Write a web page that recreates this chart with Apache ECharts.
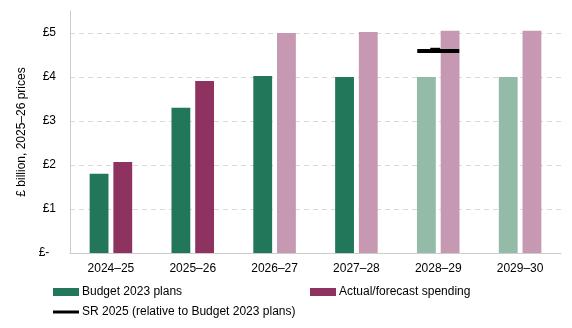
<!DOCTYPE html>
<html>
<head>
<meta charset="utf-8">
<script src="https://cdn.jsdelivr.net/npm/echarts@6/dist/echarts.min.js"></script>
<style>html,body{margin:0;padding:0;background:#fff}#c{width:572px;height:328px}</style>
</head>
<body>
<div id="c"></div>
<script>
const categories = ['2024–25', '2025–26', '2026–27', '2027–28', '2028–29', '2029–30'];
const budget2023 = [1.80, 3.30, 4.02, 4.00, 4.00, 4.00];
const actualForecast = [2.07, 3.91, 5.00, 5.02, 5.05, 5.05];
const sr2025Category = '2028–29';
const sr2025Value = 4.59;
const sr2025Step = 4.63;
const yTicks = [0, 1, 2, 3, 4, 5];
const yTickLabels = ['£-  ', '£1', '£2', '£3', '£4', '£5'];
const yMax = 5.5;
const fadedBudget = ['2028–29', '2029–30'];
const fadedActual = ['2026–27', '2027–28', '2028–29', '2029–30'];

const GREEN = '#22775a', GREEN_L = '#93bba8', PURPLE = '#8e3360', PURPLE_L = '#c798b1';
const FONT = 'Liberation Sans, Arial, sans-serif';

const legendText = { color: '#000', fontSize: 12, fontFamily: FONT, padding: [0, 0, 0, -2] };
const chart = echarts.init(document.getElementById('c'));
chart.setOption({
  animation: false,
  textStyle: { fontFamily: FONT },
  grid: { left: 70, right: 11, top: 11, bottom: 75 },
  xAxis: {
    type: 'category', data: categories,
    axisLine: { lineStyle: { color: '#cccccc', width: 1 } },
    axisTick: { show: false },
    axisLabel: { color: '#000', fontSize: 12, fontFamily: FONT, margin: 10 }
  },
  yAxis: {
    type: 'value', min: 0, max: yMax, interval: 1,
    name: '£ billion, 2025–26 prices', nameLocation: 'middle', nameRotate: 90, nameGap: 38,
    nameTextStyle: { color: '#000', fontSize: 12, fontFamily: FONT },
    axisLine: { show: true, lineStyle: { color: '#cccccc', width: 1 } },
    axisTick: { show: false },
    splitLine: { show: false },
    axisLabel: {
      color: '#000', fontSize: 12, fontFamily: FONT, margin: 14,
      formatter: v => { const i = yTicks.indexOf(v); return i >= 0 ? yTickLabels[i] : ''; }
    }
  },
  legend: [
    { data: ['Budget 2023 plans'], left: 53, top: 286, padding: 0, icon: 'rect', itemWidth: 26, itemHeight: 8, itemGap: 0,
      textStyle: legendText, selectedMode: false },
    { data: ['Actual/forecast spending'], left: 310, top: 286, padding: 0, icon: 'rect', itemWidth: 26, itemHeight: 8, itemGap: 0,
      textStyle: legendText, selectedMode: false },
    { data: ['SR 2025 (relative to Budget 2023 plans)'], left: 53, top: 306, padding: 0, icon: 'rect', itemWidth: 26, itemHeight: 3, itemGap: 0,
      textStyle: legendText, selectedMode: false }
  ],
  series: [
    {
      name: 'Budget 2023 plans', type: 'bar', barWidth: '23%', barGap: '26%',
      itemStyle: { color: GREEN },
      data: budget2023.map((v, i) => ({ value: v, itemStyle: { color: fadedBudget.includes(categories[i]) ? GREEN_L : GREEN } })),
      markLine: {
        silent: true, symbol: 'none', z: 0, animation: false,
        label: { show: false },
        lineStyle: { type: [5, 4], color: '#d9d9d9', width: 1 },
        data: yTicks.filter(v => v > 0).map(v => ({ yAxis: v }))
      }
    },
    {
      name: 'Actual/forecast spending', type: 'bar', barWidth: '23%', barGap: '26%',
      itemStyle: { color: PURPLE },
      data: actualForecast.map((v, i) => ({ value: v, itemStyle: { color: fadedActual.includes(categories[i]) ? PURPLE_L : PURPLE } }))
    },
    {
      name: 'SR 2025 (relative to Budget 2023 plans)', type: 'scatter', z: 5,
      itemStyle: { color: '#000', opacity: 1 },
      symbol: 'rect',
      data: [
        { value: [sr2025Category, sr2025Value], symbolSize: [42, 4] },
        { value: [sr2025Category, sr2025Step], symbolSize: [10, 3], symbolOffset: [-3, 0] }
      ]
    }
  ]
});
</script>
</body>
</html>
